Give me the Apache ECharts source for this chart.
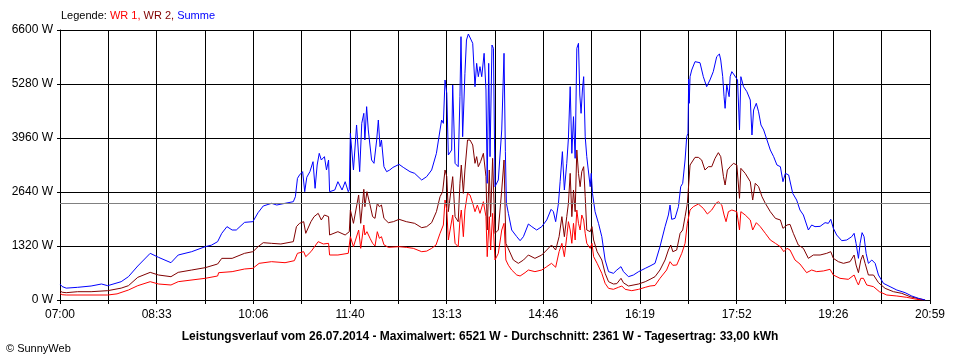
<!DOCTYPE html>
<html>
<head>
<meta charset="utf-8">
<script src="https://cdn.jsdelivr.net/npm/echarts@6/dist/echarts.min.js"></script>
<style>
html,body{margin:0;padding:0;background:#fff;}
#chart{width:960px;height:360px;}
</style>
</head>
<body>
<div id="chart"></div>
<script>
// x tick labels (every second grid line)
const tickLabels = ["07:00","08:33","10:06","11:40","13:13","14:46","16:19","17:52","19:26","20:59"];
const spanMinutes = 839;      // 07:00 .. 20:59
const gridSteps = 18;         // vertical grid lines
const yTicks = [0,1320,2640,3960,5280,6600];
const averageW = 2361;

// [minutes since 07:00, watt]
const summe = [[0,391],[2,330],[6,290],[17,310],[30,342],[40,391],[46,350],[59,448],[66,570],[75,831],[87,1141],[95,1043],[107,912],[114,1100],[127,1181],[140,1303],[146,1340],[152,1426],
[156,1630],[161,1793],[166,1711],[170,1711],[178,1898],[186,1915],[191,2134],[196,2298],[204,2363],[209,2322],[217,2363],[225,2403],[227,2525],[229,2974],[231,3056],[234,3137],[236,2648],[238,3000],[241,3137],[244,3381],[246,2730],[248,3300],[250,3585],[252,3422],[255,3504],[257,3178],[259,3422],[260,2648],[265,2689],[268,2892],[272,2689],[275,2892],[278,2648],[279,2700],[280,4074],[283,3178],[286,4278],[289,3137],[291,4319],[293,4563],
[294,3911],[295.7,4726],[297.3,4156],[299,4156],[300.5,3422],[302.8,3341],[305.4,3911],[307,4400],[308.6,3748],[310,3911],[312.4,3259],[315,3137],[318,3178],[321,3240],[327,3316],[331,3243],[337.5,3137],[342,3096],[348.8,2933],[353.6,3015],[358.4,3178],[363,3585],[366.5,4156],[368,4400],[369.7,4318],[371.3,5378],[373,5052],[374.5,3544],[377.7,3667],[378.7,5256],[381,3341],[384,3259],[385.7,4970],[386.7,6437],[388.3,3992],[390.5,5541],[392,6356],[393.8,6502],[395.4,6521],[398,6275],[400.2,5215],[401.8,5785],[403.4,5459],[405,5704],[406.7,5459],[409,6030],[410.8,5133],[412,2852],[413.4,5785],[414.7,3504],[416.6,6233],[418,6152],[419.5,2770],[422.7,2933],[426,4156],[428.2,6030],[429.5,3626],[430.5,2363],[432.4,2118],
[435.6,1711],[440.5,1548],[443.7,1450],[446.9,1548],[451.7,1858],[455,1793],[459.7,1711],[464.6,1793],[469.4,1956],[473.6,2216],[475.8,2159],[478,1915],[480.7,2363],[482.3,2892],[484.5,3626],[486.4,2689],[488.7,3341],[490.3,3952],[492,5215],[493.6,3585],[495.2,4481],[496.8,3463],[498.4,6152],[500,6275],[501.3,5011],[502.5,4563],[503.8,5133],[505,5459],[506.5,3992],[508,3504],[511.3,2770],[512.3,3096],[513.5,2607],[516,2159],[519.3,1874],[522.5,1548],[525.7,978],[529,693],[533.7,652],[537,733],[541,815],[543.4,693],[548.2,570],[553,611],[558,693],[564.4,774],[569,831],
[573.8,896],[578.6,1303],[583.5,1793],[586.7,2078],[588.3,2322],[589.9,1972],[593.1,1996],[596.4,2281],[598.6,2770],[600.5,2852],[602.8,3422],[604.4,3992],[605.6,4074],[606.3,5400],[606.8,4808],[607.6,5459],[609.2,5622],[612.4,5826],[614,5850],[617.2,5800],[620.4,5459],[623.6,5215],[626.8,5378],[630,5582],[633.3,5948],[635.9,6013],[637.2,5866],[639.1,5459],[640.4,4970],[641.4,4685],[643,5256],[645.3,4970],[646.3,5459],[647.9,5582],[650.2,5500],[652.1,5540],[653.4,5378],[655.3,4156],[656.6,5459],[659.2,5215],[662.4,5093],[665.7,4889],[667.3,4033],[668.9,4644],[671.5,4808],[673.7,4600],[676,4278],[678.6,4156],[681.8,3911],[685,3667],[688.2,3504],[691.4,3300],[694.7,3259],[697.2,2892],[699.5,3096],[702.7,3056],
[704,3096],[706.6,2607],[710.4,2444],[713.6,2200],[716.9,2078],[721.7,1711],[724.9,1833],[728.1,1793],[733,1800],[737.8,1890],[741,1874],[743.3,1972],[745.8,1752],[749,1589],[753.9,1450],[758.7,1467],[763.5,1548],[765.8,1630],[767.7,1385],[770,1018],[771.6,1385],[773.5,1646],[775.4,1548],[777.4,1141],[779.6,896],[782.9,978],[786.1,896],[789.3,611],[794.1,407],[800.5,326],[807,244],[815,179],[821.4,98],[827.9,41],[834.3,0]];

const wr2 = [[0,228],[2,190],[6,179],[17,203],[30,203],[46,228],[59,290],[66,350],[75,554],[87,676],[95,611],[107,570],[114,676],[127,733],[140,790],[152,880],
[156,1018],[166,1018],[178,1141],[186,1181],[191,1303],[196,1401],[204,1385],[213,1369],[225,1426],[228,1793],[231,1874],[235,1915],[237,1630],[242,1915],[245,2037],[249,2118],[252,1956],[255,2078],[259,2037],[260,1589],[268,1670],[275,1589],[279,1670],[280,2200],[283,1874],[288,2567],[290,1874],[293,2705],
[294,2281],[296,2648],[299,2322],[301.5,2037],[303.8,1996],[306,2363],[308,2281],[310,2322],[312.4,1996],[316.6,1890],[321.5,1915],[327,1972],[334,1915],[342,1874],[348.8,1768],[353.6,1793],[358.4,1890],[363,2159],[366.5,2525],[369,2648],[371.3,3178],[373,3015],[374.5,2159],[378.7,3015],[381,2037],[384,1915],[385.7,2852],[387,3300],[389,2607],[390.5,3178],[393,3911],[395.4,3911],[398,3789],[400.2,3341],[401.8,3504],[403.4,3259],[405.6,3381],[408.3,3585],[410.8,3015],[412,1711],[414,3178],[415.3,2037],[417.2,3463],[419.5,1630],[422.7,1711],[426,2689],[428.2,3422],[430,1385],[432.4,1250],
[437.2,978],[442,896],[447,978],[451.7,1100],[458,1018],[464.6,1100],[469.4,1222],[474,1344],[478,1222],[481.3,1548],[484,2037],[486.4,1548],[488.7,2037],[490.3,2363],[492,3096],[493.6,2037],[495.2,2689],[496.8,2159],[498.4,3667],[500,3096],[501.6,2770],[503.2,3137],[505,3259],[506.5,2525],[508,1711],[511.3,1670],[513,1793],[514.6,1467],[518,1181],[522.5,978],[525.7,652],[529,448],[533.7,391],[537,400],[541,530],[543.4,420],[548.2,342],[558,391],[564.4,448],[569,505],
[573.8,570],[578.6,733],[583.5,978],[586.7,1222],[589,1344],[591,1181],[594.7,1222],[598,1630],[600.5,1711],[602.8,2037],[605,2363],[606.6,2933],[607.6,3300],[609.2,3341],[612.4,3487],[615.6,3487],[618.8,3422],[622,3178],[625.3,3259],[628.5,3259],[631.7,3463],[634.9,3602],[637.2,3504],[639.8,3015],[641.4,2811],[643.6,3178],[646.3,3259],[649.5,3341],[652.7,3300],[655.3,2485],[656.6,3218],[660.8,3096],[665.7,2892],[668,2444],[670.5,2852],[673.7,2770],[677,2525],[680.2,2363],[685,2159],[689.9,1996],[694.7,1956],[697.2,1752],[701.1,1833],[704,1849],
[707.2,1630],[712,1344],[716.9,1263],[721.7,1018],[726.5,1100],[733,1100],[739.4,1141],[743.3,1181],[745.8,1018],[750.6,937],[755.5,896],[761.9,937],[765.8,1100],[767.7,855],[770,668],[772.3,978],[774.2,1100],[776.4,896],[779.6,611],[784.5,611],[789.3,424],[795.7,285],[803.8,203],[811.8,163],[819.8,81],[827.9,33],[834.3,0]];

const wr1 = [[0,163],[2,130],[6,122],[46,122],[55,150],[66,244],[75,350],[87,448],[95,391],[107,367],[114,448],[140,530],[152,587],
[153,668],[166,693],[178,758],[186,774],[192,896],[204,937],[217,912],[226,961],[229,1141],[235,1181],[237,1059],[242,1181],[249,1426],[254,1369],[259,1385],[260,1100],[268,1100],[278,1141],[280,1548],[283,1303],[288,1711],[290,1263],[293,1833],
[294,1589],[296,1670],[299,1508],[301.5,1385],[303.8,1320],[306,1670],[308,1508],[310,1548],[312.4,1350],[316.6,1287],[327,1303],[334,1287],[340.7,1263],[348.8,1181],[353.6,1195],[358.4,1263],[362.6,1344],[366.5,1630],[369.7,1833],[371.3,2444],[373,2200],[374.5,1467],[378.7,2078],[381,1385],[384,1303],[385.7,1956],[387,2200],[389,1548],[390.5,2200],[393,2607],[395.4,2567],[398,2363],[400.2,2159],[402.5,2322],[405,2118],[408.3,2403],[410.8,2037],[412,1059],[414,2037],[415.3,1222],[417.2,2118],[419.5,978],[422.7,1141],[426,1711],[428.2,1874],[430,978],[432.4,850],
[435.6,733],[440.5,611],[443.7,587],[448.5,668],[451.7,733],[458,693],[464.6,733],[469.4,815],[474,896],[478,800],[481.3,1181],[484,1385],[486.4,1059],[488.7,1548],[490.3,1915],[492,1711],[493.6,1385],[495.2,1874],[496.8,1467],[498.4,2200],[500,1874],[501.6,1711],[503.2,2078],[505,1956],[506.5,1630],[508,1385],[511.3,1263],[513,1385],[514.6,1059],[518,896],[522.5,652],[525.7,407],[529,285],[533.7,261],[538.5,310],[541.8,342],[545,261],[551.4,228],[558,261],[564.4,310],[569,342],
[573.8,355],[578.6,530],[585,733],[588.3,937],[591,848],[594.7,855],[599.6,1141],[602.8,1385],[605,1874],[606.6,1915],[607.6,2200],[610.8,2281],[615.6,2346],[620.4,2240],[624.3,2102],[628.5,2200],[632.6,2363],[634.9,2403],[638.2,2322],[640.4,2078],[642.3,1915],[644.6,2159],[647.9,2200],[652.7,2159],[655.3,1711],[656.6,2159],[660.8,2078],[665.7,1956],[668,1711],[671.5,1890],[675.3,1793],[680.2,1630],[685,1467],[689.9,1385],[694.7,1303],[698,1181],[701.1,1263],[704,1222],
[708.8,978],[713.6,880],[720,668],[724.9,733],[729.7,693],[736.2,710],[742.6,750],[745.8,611],[752.2,530],[760.2,505],[765.8,611],[768.4,448],[770,367],[772.3,530],[774.8,530],[778,367],[784.5,326],[790.2,203],[797.3,122],[807,98],[816.6,65],[826.3,16],[832.7,0]];

const legendText = ['Legende: ', 'WR 1, ', 'WR 2, ', 'Summe'];
const titleText = 'Leistungsverlauf vom 26.07.2014 - Maximalwert: 6521 W - Durchschnitt: 2361 W - Tagesertrag: 33,00 kWh';
const copyrightText = '\u00A9 SunnyWeb';

// convert minutes to grid units (one unit = one vertical grid step)
const toUnits = arr => arr.map(p => [p[0] * gridSteps / spanMinutes, p[1]]);

const FONT = '"Liberation Sans", Arial, sans-serif';
const chart = echarts.init(document.getElementById('chart'), null, {renderer: 'canvas'});

const lineSeries = (name, data, color) => ({
  name, type: 'line', data: toUnits(data), showSymbol: false, symbol: 'none',
  lineStyle: {color, width: 1}, itemStyle: {color}, animation: false, silent: true
});

const option = {
  animation: false,
  backgroundColor: '#ffffff',
  grid: {left: 60, top: 30, right: 30, bottom: 60, containLabel: false},
  xAxis: {
    type: 'value', min: 0, max: gridSteps, interval: 1,
    axisLine: {show: true, lineStyle: {color: '#000', width: 1}},
    axisTick: {show: true, length: 4, lineStyle: {color: '#000'}},
    splitLine: {show: true, lineStyle: {color: '#000', width: 1}},
    axisLabel: {
      color: '#000', fontFamily: FONT, fontSize: 12, margin: 9,
      formatter: v => (Math.round(v) % 2 === 0) ? tickLabels[Math.round(v) / 2] : ''
    }
  },
  yAxis: {
    type: 'value', min: yTicks[0], max: yTicks[yTicks.length - 1], interval: yTicks[1] - yTicks[0],
    axisLine: {show: true, lineStyle: {color: '#000', width: 1}},
    axisTick: {show: true, length: 3, lineStyle: {color: '#000'}},
    splitLine: {show: true, lineStyle: {color: '#000', width: 1}},
    axisLabel: {color: '#000', fontFamily: FONT, fontSize: 12, margin: 7, formatter: v => v + ' W'}
  },
  series: [
    Object.assign(lineSeries('WR 2', wr2, '#800000'), {
      markLine: {
        silent: true, symbol: 'none', animation: false,
        label: {show: false},
        lineStyle: {color: '#808080', width: 1, type: 'solid'},
        data: [{yAxis: averageW}]
      }
    }),
    lineSeries('WR 1', wr1, '#ff0000'),
    lineSeries('Summe', summe, '#0000ff')
  ],
  graphic: [
    {
      type: 'text', left: 61, top: 10,
      style: {
        text: '{k|' + legendText[0] + '}{a|' + legendText[1] + '}{b|' + legendText[2] + '}{c|' + legendText[3] + '}',
        rich: {
          k: {fill: '#000', fontFamily: FONT, fontSize: 11},
          a: {fill: '#ff0000', fontFamily: FONT, fontSize: 11},
          b: {fill: '#800000', fontFamily: FONT, fontSize: 11},
          c: {fill: '#0000ff', fontFamily: FONT, fontSize: 11}
        }
      }
    },
    {
      type: 'text', x: 480, y: 337,
      style: {text: titleText, fill: '#000', fontFamily: FONT, fontSize: 12, fontWeight: 'bold', align: 'center', verticalAlign: 'middle'}
    },
    {
      type: 'text', x: 6, y: 349,
      style: {text: copyrightText, fill: '#000', fontFamily: FONT, fontSize: 11, align: 'left', verticalAlign: 'middle'}
    }
  ]
};
chart.setOption(option);
</script>
</body>
</html>
